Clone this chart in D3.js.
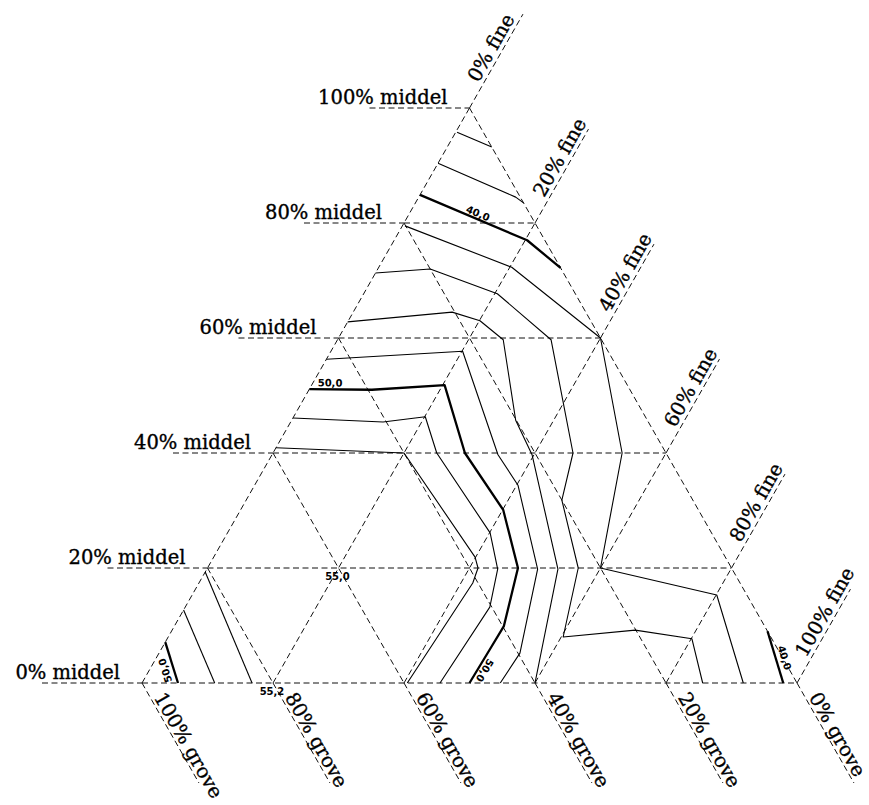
<!DOCTYPE html>
<html>
<head>
<meta charset="utf-8">
<script src="https://cdn.jsdelivr.net/npm/d3@7"></script>
<style>
  body { margin: 0; background: #fff; }
  svg { display: block; }
</style>
</head>
<body>
<svg id="chart" width="869" height="805"></svg>
<script>
// ---- Data -------------------------------------------------------------
// Grid steps (percent) for the three fractions
const gridSteps = [0, 20, 40, 60, 80, 100];
const middelTicks = ["0% middel", "20% middel", "40% middel", "60% middel", "80% middel", "100% middel"];
const fineTicks = ["0% fine", "20% fine", "40% fine", "60% fine", "80% fine", "100% fine"];
const groveTicks = ["100% grove", "80% grove", "60% grove", "40% grove", "20% grove", "0% grove"];

// Iso-lines; vertices given as [fine %, middel %] (grove = 100 - fine - middel)
const iso36 = [[0.2, 95.8], [6.8, 93.2]];
const iso38 = [[0, 90.4], [14.8, 84.5], [16.5, 83.5]];
const iso40a = [[0, 84.9], [20.3, 77.0], [27.8, 72.2]];
const iso42 = [[0.4, 79.5], [20.3, 72.3], [40, 60], [53.3, 40], [60, 20], [80.1, 15.3], [91.8, 0]];
const iso44 = [[0, 71.3], [8.0, 72.0], [20.4, 67.7], [32.6, 59.7], [45.8, 40], [48.2, 31.8],
               [56.6, 20], [60.3, 8.0], [70.7, 9.2], [80.1, 7.7], [85.6, 0]];
const iso46 = [[0, 62.8], [15.1, 64.5], [20.1, 63.0], [25.3, 59.7], [34.2, 45.7], [39.7, 39.7],
               [53.6, 19.8], [60, 0]];
const iso48 = [[0, 56.3], [20.1, 57.7], [34.5, 39.7], [40.2, 34.4], [50.5, 19.8], [55.1, 5.2], [54.7, 0]];
const iso50a = [[0, 51.1], [9.6, 51.0], [20.3, 51.8], [29.3, 40], [40.1, 30.1], [47.4, 20],
                [50.3, 9.9], [50.2, 6.3], [50, 0]];
const iso52a = [[0, 46.1], [14.1, 45.4], [20.1, 46.3], [25, 40], [40.1, 26.1], [44.4, 19.8],
                [46.5, 13.2], [45.5, 0]];
const iso54a = [[0, 40.9], [20, 40], [39.9, 21.9], [41.3, 20], [41.8, 17.4], [40.5, 0]];
const iso54b = [[0, 19.3], [16.8, 0]];
const iso52b = [[0, 12.7], [11.1, 0]];
const iso50b = [[0, 7.1], [5.5, 0]];
const iso40b = [[91, 9], [97.9, 0]];

const isoLevels = [36, 38, 40, 42, 44, 46, 48, 50, 52, 54, 54, 52, 50, 40];
const isoPaths = [iso36, iso38, iso40a, iso42, iso44, iso46, iso48, iso50a, iso52a, iso54a,
                  iso54b, iso52b, iso50b, iso40b];
const boldLevels = [40, 50];

// Point values written at grid nodes: [fine %, middel %], value
const spotPoints = [[20, 20], [20, 0]];
const spotValues = [55.0, 55.2];

// ---- Scales -----------------------------------------------------------
const xScale = d3.scaleLinear().domain([0, 100]).range([142, 797]);
const yScale = d3.scaleLinear().domain([0, 100]).range([683, 108]);
const project = (f, m) => [xScale(f + m / 2), yScale(m)];

const svg = d3.select("#chart");
const fmt = v => v.toFixed(1).replace(".", ",");

const unit = (a, b) => {
  const dx = b[0] - a[0], dy = b[1] - a[1], L = Math.hypot(dx, dy);
  return [dx / L, dy / L];
};
const dirFine = unit(project(0, 0), project(0, 100));   // up-right, along constant-fine lines
const dirGrove = unit(project(0, 100), project(100, 0)); // down-right, along constant-grove lines
const angFine = Math.atan2(dirFine[1], dirFine[0]) * 180 / Math.PI;
const angGrove = Math.atan2(dirGrove[1], dirGrove[0]) * 180 / Math.PI;

const dash = "6,3.5";
const gridG = svg.append("g")
  .attr("fill", "none").attr("stroke", "#111").attr("stroke-width", 1)
  .attr("stroke-dasharray", dash);

// ---- Triangular grid --------------------------------------------------
const gridLines = [];
gridSteps.forEach(k => {
  if (k < 100) {
    gridLines.push([project(0, k), project(100 - k, k)]);     // constant middel
    gridLines.push([project(k, 0), project(k, 100 - k)]);     // constant fine
    gridLines.push([project(0, 100 - k), project(100 - k, 0)]); // constant grove = k
  }
});
gridG.selectAll("line.grid").data(gridLines).join("line")
  .attr("class", "grid")
  .attr("x1", d => d[0][0]).attr("y1", d => d[0][1])
  .attr("x2", d => d[1][0]).attr("y2", d => d[1][1]);

// ---- Axis extensions and labels ---------------------------------------
const labelFont = "'DejaVu Serif', 'Liberation Serif', serif";
const labelSize = 19.5;
const extMiddel = 100, extFine = 108, extGrove = 115;

function axisText(sel) {
  return sel.attr("font-family", labelFont).attr("font-size", labelSize)
    .attr("fill", "#000").attr("stroke", "#000").attr("stroke-width", 0.35);
}

gridSteps.forEach((k, i) => {
  // middel: horizontal, to the left of the left edge
  const L = project(0, k);
  gridG.append("line")
    .attr("x1", L[0] - extMiddel).attr("y1", L[1]).attr("x2", L[0]).attr("y2", L[1]);
  axisText(svg.append("text"))
    .attr("x", L[0] - 22).attr("y", L[1] - 4.5)
    .attr("text-anchor", "end")
    .text(middelTicks[i]);

  // fine: beyond the right edge, going up-right
  const R = project(k, 100 - k);
  gridG.append("line")
    .attr("x1", R[0]).attr("y1", R[1])
    .attr("x2", R[0] + dirFine[0] * extFine).attr("y2", R[1] + dirFine[1] * extFine);
  axisText(svg.append("text"))
    .attr("transform", `translate(${R[0] + dirFine[0] * 26},${R[1] + dirFine[1] * 26}) rotate(${angFine})`)
    .attr("x", 0).attr("y", -4.5)
    .text(fineTicks[i]);

  // grove: below the bottom edge, going down-right
  const B = project(k, 0);
  gridG.append("line")
    .attr("x1", B[0]).attr("y1", B[1])
    .attr("x2", B[0] + dirGrove[0] * extGrove).attr("y2", B[1] + dirGrove[1] * extGrove);
  axisText(svg.append("text"))
    .attr("transform", `translate(${B[0] + dirGrove[0] * 18},${B[1] + dirGrove[1] * 18}) rotate(${angGrove})`)
    .attr("x", 0).attr("y", -3)
    .text(groveTicks[i]);
});

// ---- Iso-lines --------------------------------------------------------
const line = d3.line().x(d => project(d[0], d[1])[0]).y(d => project(d[0], d[1])[1]);
svg.append("g").attr("fill", "none").attr("stroke", "#000")
  .selectAll("path").data(isoPaths).join("path")
  .attr("d", d => line(d))
  .attr("stroke-width", (d, i) => boldLevels.includes(isoLevels[i]) ? 2.3 : 1.1)
  .attr("stroke-linejoin", "round");

// ---- Iso-line labels --------------------------------------------------
const smallFont = "'DejaVu Sans', 'Liberation Sans', sans-serif";
const isoLabelSpots = [
  { path: 2, seg: 0, t: 0.52, flip: false, gap: 2 },
  { path: 7, seg: 0, t: 0.33, flip: false, gap: 3 },
  { path: 7, seg: 7, t: 0.56, flip: false, gap: 3 },
  { path: 12, seg: 0, t: 0.63, flip: true, gap: 5 },
  { path: 13, seg: 0, t: 0.56, flip: false, gap: 5 }
];
isoLabelSpots.forEach(s => {
  const pts = isoPaths[s.path];
  const a = project(...pts[s.seg]), b = project(...pts[s.seg + 1]);
  const px = a[0] + (b[0] - a[0]) * s.t, py = a[1] + (b[1] - a[1]) * s.t;
  let ang = Math.atan2(b[1] - a[1], b[0] - a[0]) * 180 / Math.PI;
  if (s.flip) ang -= 180;
  svg.append("text")
    .attr("transform", `translate(${px},${py}) rotate(${ang})`)
    .attr("x", 0).attr("y", -s.gap)
    .attr("text-anchor", "middle")
    .attr("font-family", smallFont).attr("font-weight", "bold").attr("font-size", 10)
    .text(fmt(isoLevels[s.path]));
});

spotPoints.forEach((p, i) => {
  const q = project(p[0], p[1]);
  svg.append("text")
    .attr("x", q[0] - 1).attr("y", q[1] + 12)
    .attr("text-anchor", "middle")
    .attr("font-family", smallFont).attr("font-weight", "bold").attr("font-size", 10)
    .text(fmt(spotValues[i]));
});
</script>
</body>
</html>
